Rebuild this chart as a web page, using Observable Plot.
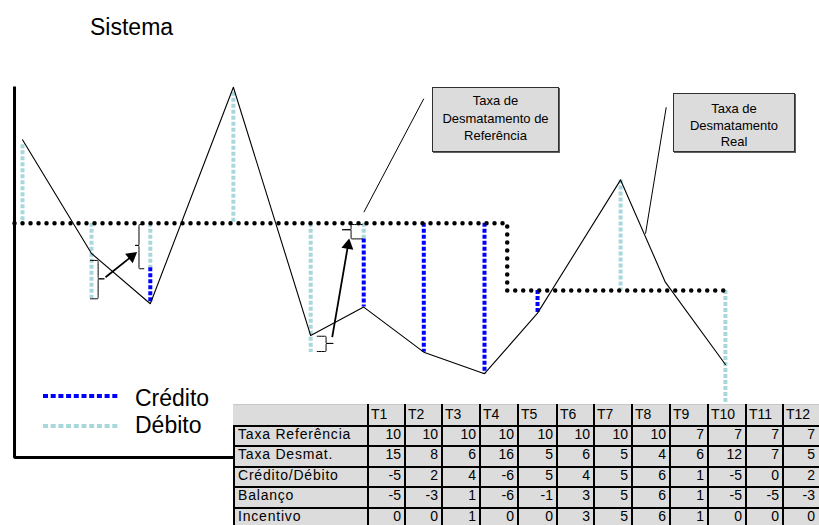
<!DOCTYPE html>
<html><head><meta charset="utf-8">
<script src="https://cdn.jsdelivr.net/npm/d3@7"></script>
<script src="https://cdn.jsdelivr.net/npm/@observablehq/plot@0.6"></script>
<style>
body{margin:0;background:#fff;font-family:"Liberation Sans",Arial,sans-serif;}
#wrap{position:relative;width:819px;height:525px;overflow:hidden;background:#fff;}
#wrap > svg{position:absolute;left:0;top:0;}
.abs{position:absolute;white-space:nowrap;}
.box{position:absolute;background:#dcdcdc;border:1px solid #303030;box-shadow:1px 1px 0 #606060;text-align:center;font-size:13px;color:#000;box-sizing:border-box;}
.cell{position:absolute;font-size:14px;color:#000;white-space:nowrap;box-sizing:border-box;}
.lab{letter-spacing:0.8px;}
.bl{position:absolute;background:#000;}
</style></head><body><div id="wrap"></div>
<script>
// ---------- table values ----------
const periods = ["T1","T2","T3","T4","T5","T6","T7","T8","T9","T10","T11","T12"];
const taxaReferencia = [10,10,10,10,10,10,10,10,7,7,7,7];
const taxaDesmat = [15,8,6,16,5,6,5,4,6,12,7,5];
const creditoDebito = [-5,2,4,-6,5,4,5,6,1,-5,0,2];
const balanco = [-5,-3,1,-6,-1,3,5,6,1,-5,-5,-3];
const incentivo = [0,0,1,0,0,3,5,6,1,0,0,0];
const rowLabels = ["Taxa Referência","Taxa Desmat.","Crédito/Débito","Balanço","Incentivo"];

// ---------- schematic drawing ----------
const drawnPos  = [1.00, 2.08, 3.00, 4.30, 5.51, 6.34, 7.28, 8.23, 9.06, 10.36, 11.06, 12.00];
const drawnRate = [13.72, 8.65, 6.41, 16.06, 4.99, 6.26, 4.25, 3.29, 5.99, 11.93, 7.37, 3.70];

// vertical credit / debit segments
const segPeriod = ["T1","T2","T3","T3","T4","T5","T6","T6","T7","T8","T9","T10","T12"];
const segFrom   = [13.5, 10, 10, 8.01, 15.84, 10, 10, 9.30, 10, 10, 7, 11.93, 7];
const segTo     = [10, 6.64, 8.01, 6.41, 10, 4.24, 9.30, 6.26, 4.25, 3.29, 5.99, 7, 1.96];
const segType   = ["Débito","Débito","Débito","Crédito","Débito","Débito","Débito","Crédito","Crédito","Crédito","Crédito","Débito","Débito"];

// reference step line: starts at axis, steps between T8 and T9, ends at T12
const refStart = 0.875, refStep = 8.585, refEnd = 12.03;

// braces
const braceEnd    = [2.064, 2.899, 5.612, 6.316];
const braceTip    = [2.330, 2.730, 5.920, 5.930];
const braceTop    = [8.34, 9.94, 4.96, 9.94];
const braceBottom = [6.63, 7.97, 4.28, 9.30];
const braceMid    = [7.52, 9.01, 4.64, 9.71];

// arrows
const arrowX1 = [2.299, 5.847], arrowY1 = [7.59, 4.92];
const arrowX2 = [2.769, 6.107], arrowY2 = [8.66, 9.23];

// callout leader lines
const leaderX1 = [7.280, 11.074], leaderY1 = [15.55, 15.17];
const leaderX2 = [6.342, 10.750], leaderY2 = [10.49, 9.53];

// axis frame (L shape)
const axisX = 0.875, axisTop = 16.09, axisBottom = -0.45, axisRight = 4.35;

// ---------- scale geometry ----------
const W = 819, H = 525;
const PX_PER_PERIOD = 63.9, X1_PX = 22;
const PX_PER_UNIT = 22.43, Y10_PX = 222.7;
const xDomain = [1 - X1_PX / PX_PER_PERIOD, 1 + (W - X1_PX) / PX_PER_PERIOD];
const yDomain = [10 - (H - Y10_PX) / PX_PER_UNIT, 10 + Y10_PX / PX_PER_UNIT];

const COLORS = {"Crédito": "#0000ff", "Débito": "#a8d8dc"};

const pos = Object.fromEntries(periods.map((p, i) => [p, drawnPos[i]]));
const rateLine = periods.map((p, i) => ({x: drawnPos[i], y: drawnRate[i]}));
const segments = segPeriod.map((p, i) => ({x: pos[p], y1: segFrom[i], y2: segTo[i], type: segType[i]}));
const refIdxStep = taxaReferencia.findIndex(v => v !== taxaReferencia[0]);
const refLine = [
  {x: refStart, y: taxaReferencia[0]},
  {x: refStep, y: taxaReferencia[refIdxStep - 1]},
  {x: refStep, y: taxaReferencia[refIdxStep]},
  {x: refEnd, y: taxaReferencia[periods.length - 1]}
];
// curly brace outline (B-spline control points)
const braces = braceEnd.flatMap((x0, i) => {
  const xt = braceTip[i], xm = x0 + (xt - x0) * 0.45, y1 = braceTop[i], y2 = braceBottom[i], ym = braceMid[i];
  return [[x0, y1], [xm, y1], [xm, y1], [xm, ym], [xm, ym], [xt, ym], [xm, ym], [xm, ym], [xm, y2], [xm, y2], [x0, y2]]
    .map(([x, y]) => ({x, y, id: i}));
});
const arrows = arrowX1.map((x1, i) => {
  const dxp = (arrowX2[i] - x1) * PX_PER_PERIOD, dyp = (arrowY2[i] - arrowY1[i]) * PX_PER_UNIT;
  const len = Math.hypot(dxp, dyp), back = 5;
  return {
    x1, y1: arrowY1[i], x2: arrowX2[i], y2: arrowY2[i],
    hx: arrowX2[i] - back * dxp / len / PX_PER_PERIOD,
    hy: arrowY2[i] - back * dyp / len / PX_PER_UNIT,
    rot: Math.atan2(dxp, dyp) * 180 / Math.PI
  };
});
const leaders = leaderX1.map((x1, i) => ({x1, y1: leaderY1[i], x2: leaderX2[i], y2: leaderY2[i]}));
const axisLine = [{x: axisX, y: axisTop}, {x: axisX, y: axisBottom}, {x: axisRight, y: axisBottom}];

const chart = Plot.plot({
  width: W, height: H,
  marginTop: 0, marginRight: 0, marginBottom: 0, marginLeft: 0,
  x: {domain: xDomain, axis: null},
  y: {domain: yDomain, axis: null},
  color: {domain: Object.keys(COLORS), range: Object.values(COLORS)},
  marks: [
    Plot.line(axisLine, {x: "x", y: "y", stroke: "#000", strokeWidth: 3, strokeLinejoin: "miter", strokeLinecap: "butt"}),
    Plot.ruleX(segments, {x: "x", y1: "y1", y2: "y2", stroke: "type", strokeWidth: 4, strokeDasharray: "4 2"}),
    Plot.line(refLine, {x: "x", y: "y", stroke: "#000", strokeWidth: 4.5, strokeDasharray: "0 8", strokeLinecap: "round"}),
    Plot.line(rateLine, {x: "x", y: "y", stroke: "#000", strokeWidth: 1.1}),
    Plot.line(braces, {x: "x", y: "y", z: "id", stroke: "#000", strokeWidth: 1, curve: "basis"}),
    Plot.link(arrows, {x1: "x1", y1: "y1", x2: "hx", y2: "hy", stroke: "#000", strokeWidth: 1.8}),
    Plot.dot(arrows, {x: "hx", y: "hy", symbol: "triangle", r: 4.5, fill: "#000", stroke: "none", rotate: "rot"}),
    Plot.link(leaders, {x1: "x1", y1: "y1", x2: "x2", y2: "y2", stroke: "#000", strokeWidth: 1})
  ]
});
const wrap = document.getElementById("wrap");
wrap.appendChild(chart);

function add(html) { wrap.insertAdjacentHTML("beforeend", html); }

// title
add(`<div class="abs" style="left:90px;top:15.5px;font-size:23px;line-height:23px;">Sistema</div>`);

// legend
add(`<svg class="abs" style="left:0;top:380px" width="130" height="60">
  <line x1="43" x2="120" y1="16" y2="16" stroke="${COLORS["Crédito"]}" stroke-width="4" stroke-dasharray="5 2.7"/>
  <line x1="43" x2="120" y1="46" y2="46" stroke="${COLORS["Débito"]}" stroke-width="4" stroke-dasharray="5 2.7"/>
</svg>`);
add(`<div class="abs" style="left:135px;top:386.5px;font-size:23px;line-height:23px;">Crédito</div>`);
add(`<div class="abs" style="left:135px;top:413.8px;font-size:23px;line-height:23px;">Débito</div>`);

// callout boxes
add(`<div class="box" style="left:432px;top:87px;width:127px;height:65px;line-height:17.5px;padding-top:4px;">Taxa de<br>Desmatamento de<br>Referência</div>`);
add(`<div class="box" style="left:673px;top:93px;width:122px;height:59px;line-height:16.7px;padding-top:7px;">Taxa de<br>Desmatamento<br>Real</div>`);

// table
const colX = [368, 405, 442, 480, 518, 557, 594, 632, 670, 708, 746, 783, 819];
const rowY = [404, 425.5, 445.5, 466.5, 486.5, 507.5, 528];
const tLeft = 233, LH = 17.6;
add(`<div class="abs" style="left:${tLeft}px;top:${rowY[0]}px;width:${W - tLeft}px;height:${H - rowY[0]}px;background:#dcdcdc;border-top:1px solid #c8c8c8;box-sizing:border-box;"></div>`);
const rows = [taxaReferencia, taxaDesmat, creditoDebito, balanco, incentivo];
periods.forEach((p, j) => {
  const h = rowY[1] - rowY[0];
  add(`<div class="cell" style="left:${colX[j] + 3}px;top:${rowY[0]}px;height:${h}px;line-height:${h}px;">${p}</div>`);
});
rows.forEach((vals, r) => {
  const top = rowY[r + 1];
  add(`<div class="cell lab" style="left:${tLeft + 5}px;top:${top}px;line-height:${LH}px;">${rowLabels[r]}</div>`);
  vals.forEach((v, j) => {
    add(`<div class="cell" style="left:${colX[j]}px;width:${colX[j + 1] - colX[j] - 4}px;text-align:right;top:${top}px;line-height:${LH}px;">${v}</div>`);
  });
});
// grid lines
for (let r = 1; r < rowY.length - 1; r++) {
  add(`<div class="bl" style="left:${tLeft}px;top:${rowY[r] - 1}px;width:${W - tLeft}px;height:2px;"></div>`);
}
add(`<div class="bl" style="left:${tLeft}px;top:${rowY[1] - 1}px;width:2px;height:${H - rowY[1] + 1}px;"></div>`);
colX.slice(0, -1).forEach(x => {
  add(`<div class="bl" style="left:${x - 1}px;top:${rowY[0]}px;width:2px;height:${H - rowY[0]}px;"></div>`);
});
</script></body></html>
